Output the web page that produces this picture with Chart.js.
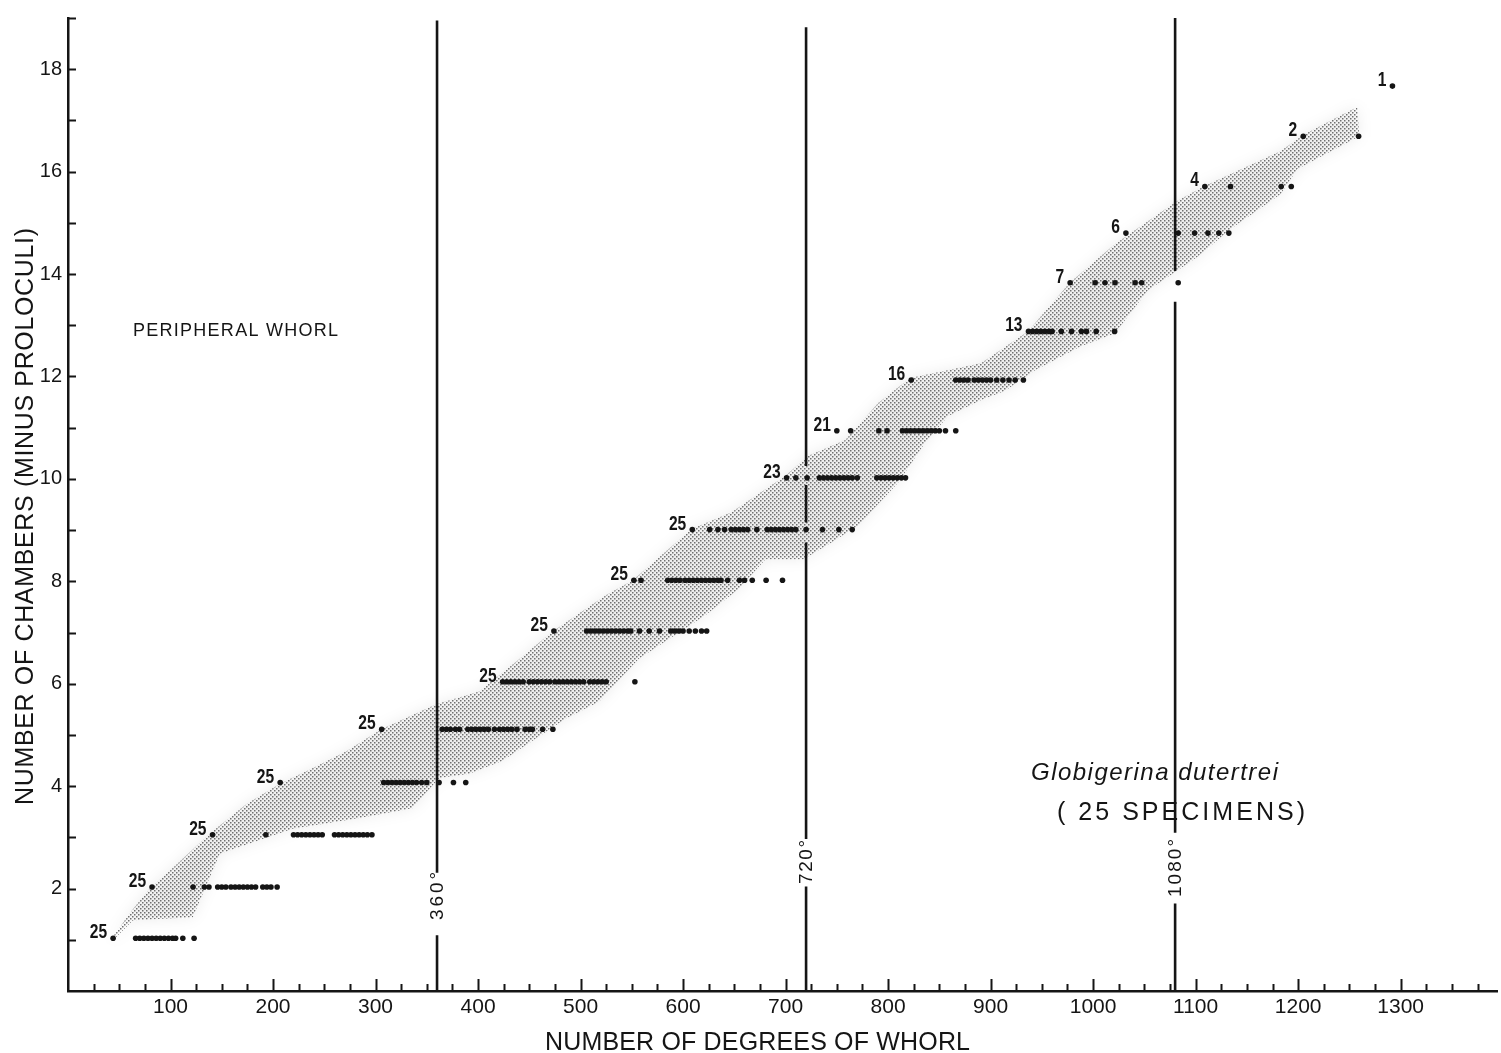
<!DOCTYPE html>
<html>
<head>
<meta charset="utf-8">
<script src="https://cdn.jsdelivr.net/npm/chart.js@4.4.1/dist/chart.umd.min.js"></script>
<style>
  html, body { margin: 0; padding: 0; background: #fff; }
  #wrap { width: 1501px; height: 1053px; }
</style>
</head>
<body>
<div id="wrap"><canvas id="chart" width="1501" height="1053"></canvas></div>
<script>
// axis ranges and tick labels
const X_MAX = 1394;
const Y_MAX = 19;
const xTickLabels = [100, 200, 300, 400, 500, 600, 700, 800, 900, 1000, 1100, 1200, 1300];
const yTickLabels = [2, 4, 6, 8, 10, 12, 14, 16, 18];

// one row of specimen points per chamber number
const rowY = [1.03, 2.03, 3.05, 4.07, 5.11, 6.04, 7.03, 8.02, 9.01, 10.02, 10.94, 11.93, 12.88, 13.83, 14.8, 15.71, 16.69, 17.67];
const rowCounts = [25, 25, 25, 25, 25, 25, 25, 25, 25, 23, 21, 16, 13, 7, 6, 4, 2, 1];

const row1 = [44, 66, 70, 74, 78, 82, 86, 90, 94, 98, 102, 105, 112, 123];
const row2 = [82, 122, 133, 137.5, 146, 150, 154, 159, 163, 167, 171, 175, 179, 183, 190, 194, 198, 204];
const row3 = [141, 193, 220, 224, 228, 232, 236, 240, 244, 248, 260, 264, 268, 272, 276, 280, 284, 288, 292, 296.5];
const row4 = [207, 308, 312, 316, 320, 324, 328, 332, 336, 340, 345, 350, 362, 376, 388];
const row5 = [306, 365, 369, 373, 378, 382, 390, 394, 398, 402, 406, 410, 416, 421, 425, 429, 433, 438, 446, 450, 453, 463, 473];
const row6 = [424, 428, 432, 436, 440, 444, 450, 454, 458, 462, 466, 470, 475, 479, 483, 487, 491, 495, 499, 503, 509, 513, 517, 521, 525, 553];
const row7 = [474, 506, 510, 514, 518, 522, 526, 530, 534, 538, 542, 546, 549, 557.5, 567, 577, 588, 592, 596, 600, 606, 612, 618, 623];
const row8 = [552, 559, 585, 589, 593, 597, 602, 606, 610, 614, 618, 622, 626, 630, 634, 637, 643.5, 655, 660, 667.5, 681, 697];
const row9 = [609, 626, 634, 640.5, 647, 651, 655, 659, 663, 672, 682, 686, 690, 694, 698, 702, 706, 710, 720, 736, 752, 765];
const row10 = [701, 710, 721, 733, 737, 741, 745, 749, 753, 757, 761, 765, 770, 789, 793, 797, 801, 805, 809, 813, 817];
const row11 = [750, 763.5, 791, 799, 814, 818, 822, 826, 830, 834, 838, 842, 846, 850, 856, 866];
const row12 = [822.6, 866, 870, 874, 878, 884, 888, 892, 896, 900, 906, 912, 918, 924, 932];
const row13 = [937, 941, 945, 949, 953, 957, 960, 969, 979, 988.6, 993.5, 1003, 1021];
const row14 = [977.6, 1002, 1011.6, 1021.4, 1041, 1047.4, 1083];
const row15 = [1032, 1083, 1099, 1112, 1122.6, 1132.4];
const row16 = [1109, 1134, 1183.5, 1193.3];
const row17 = [1205, 1259];
const row18 = [1292];
const rowX = [row1, row2, row3, row4, row5, row6, row7, row8, row9, row10, row11, row12, row13, row14, row15, row16, row17, row18];

// stippled envelope: upper edge left->right, lower edge right->left
const bandUpperX = [42.8, 62.3, 79.8, 99.3, 138.2, 174.2, 206.4, 238.5, 271.6, 305.7, 359.2, 401.1, 437.1, 472.1, 524.7, 551, 608.4, 647.3, 699.9, 722.3, 758.3, 790.4, 821.6, 890.7, 936.4, 977.3, 1021.1, 1082.4, 1108.7, 1182.7, 1206.1, 1257.7];
const bandUpperY = [1.03, 1.57, 2.0, 2.35, 3.07, 3.65, 4.04, 4.35, 4.68, 5.11, 5.6, 5.85, 6.43, 7.01, 7.73, 8.02, 9.02, 9.35, 10.06, 10.45, 10.76, 11.48, 11.97, 12.26, 12.88, 13.83, 14.58, 15.43, 15.72, 16.4, 16.73, 17.26];
const bandLowerX = [1259.6, 1199.3, 1182.7, 1134, 1101.9, 1053.3, 1021.1, 988, 943.3, 914.1, 890.7, 858.6, 836.2, 809.9, 771, 744.7, 717.4, 680.4, 654.2, 622, 556.8, 517.9, 485.7, 423.4, 391.3, 362.1, 335.8, 284.2, 219, 148, 121.7, 63.3, 43.8];
const bandLowerY = [16.69, 16.05, 15.56, 14.88, 14.34, 13.68, 12.84, 12.59, 12.12, 11.72, 11.54, 11.23, 10.71, 9.93, 9.09, 8.76, 8.43, 8.43, 7.85, 7.34, 6.49, 5.65, 5.32, 4.49, 4.24, 4.16, 3.57, 3.38, 3.17, 2.68, 1.44, 1.38, 0.99];

// whorl marker lines (null = gap)
const degreeX = [360, 720, 1080];
const degreeLabels = ['360°', '720°', '1080°'];
const line360Y = [18.95, 2.31, null, 1.09, 0];
const line720Y = [18.82, 10.25, null, 9.88, 9.15, null, 8.76, 2.97, null, 2.04, 0];
const line1080Y = [19, 14.06, null, 13.46, 3.09, null, 1.71, 0];

const INK = '#151515';

function stipple() {
  const c = document.createElement('canvas');
  c.width = 4; c.height = 4;
  const g = c.getContext('2d');
  g.fillStyle = '#707070';
  g.fillRect(0, 0, 1.5, 1.5);
  g.fillRect(2, 2, 1.5, 1.5);
  return g.createPattern(c, 'repeat');
}

const bandData = bandUpperX.map((x, i) => ({ x, y: bandUpperY[i] }))
  .concat(bandLowerX.map((x, i) => ({ x, y: bandLowerY[i] })));

const dotData = [];
rowX.forEach((xs, i) => xs.forEach(x => dotData.push({ x, y: rowY[i] })));

function vline(x, ys) {
  return {
    type: 'line',
    data: ys.map(y => ({ x, y })),
    borderColor: INK,
    borderWidth: 2.6,
    pointRadius: 0,
    spanGaps: false,
    fill: false,
    order: 1,
  };
}

function spaced(ctx, text, x0, y0, width) {
  ctx.letterSpacing = '0px';
  const w = ctx.measureText(text).width;
  ctx.letterSpacing = ((width - w) / (text.length - 1)) + 'px';
  ctx.textAlign = 'left';
  ctx.fillText(text, x0, y0);
  ctx.letterSpacing = '0px';
}

// faint blurred halo behind the stipple, like the printed original
const halo = {
  id: 'halo',
  beforeDatasetsDraw(chart) {
    const { ctx, scales: { x, y } } = chart;
    ctx.save();
    ctx.filter = 'blur(7px)';
    ctx.fillStyle = 'rgba(0,0,0,0.07)';
    ctx.beginPath();
    bandData.forEach((p, i) => {
      const px = x.getPixelForValue(p.x), py = y.getPixelForValue(p.y);
      if (i === 0) ctx.moveTo(px, py); else ctx.lineTo(px, py);
    });
    ctx.closePath();
    ctx.fill();
    ctx.restore();
  }
};

const decor = {
  id: 'decor',
  afterDatasetsDraw(chart) {
    const { ctx, scales: { x, y } } = chart;
    ctx.save();
    ctx.strokeStyle = INK;
    ctx.fillStyle = INK;

    // inward ticks
    ctx.lineWidth = 2;
    ctx.beginPath();
    for (let v = 25; v < X_MAX; v += 25) {
      const px = Math.round(x.getPixelForValue(v)) + 0.5;
      const len = v % 100 === 0 ? 12 : 7;
      ctx.moveTo(px, y.bottom);
      ctx.lineTo(px, y.bottom - len);
    }
    for (let v = 1; v <= Y_MAX; v++) {
      const py = Math.round(y.getPixelForValue(v)) + 0.5;
      ctx.moveTo(x.left, py);
      ctx.lineTo(x.left + 8, py);
    }
    ctx.stroke();

    // specimen counts beside first point of each row
    ctx.font = 'bold 20px "Liberation Sans", Arial, sans-serif';
    ctx.textAlign = 'right';
    ctx.textBaseline = 'alphabetic';
    rowX.forEach((xs, i) => {
      const px = x.getPixelForValue(xs[0]);
      const py = y.getPixelForValue(rowY[i]);
      ctx.save();
      ctx.translate(px - 6, py);
      ctx.scale(0.78, 1);
      ctx.fillText(String(rowCounts[i]), 0, 0);
      ctx.restore();
    });

    // degree labels, rotated
    const degPos = [[896, 48], [862, 44], [868, 58]];
    ctx.font = '19px "Liberation Sans", Arial, sans-serif';
    ctx.textBaseline = 'middle';
    degreeX.forEach((d, i) => {
      ctx.save();
      ctx.translate(x.getPixelForValue(d), degPos[i][0]);
      ctx.rotate(-Math.PI / 2);
      spaced(ctx, degreeLabels[i], -degPos[i][1] / 2, 1, degPos[i][1]);
      ctx.restore();
    });

    ctx.textBaseline = 'alphabetic';
    ctx.font = '18px "Liberation Sans", Arial, sans-serif';
    spaced(ctx, 'PERIPHERAL WHORL', 133, 336, 205);

    ctx.font = 'italic 24px "Liberation Sans", Arial, sans-serif';
    spaced(ctx, 'Globigerina dutertrei', 1031, 780, 247);
    ctx.font = '25px "Liberation Sans", Arial, sans-serif';
    spaced(ctx, '( 25 SPECIMENS)', 1057, 820, 248);

    // axis titles
    ctx.font = '25px "Liberation Sans", Arial, sans-serif';
    spaced(ctx, 'NUMBER OF DEGREES OF WHORL', 545, 1050, 425);
    ctx.save();
    ctx.translate(33, 805);
    ctx.rotate(-Math.PI / 2);
    spaced(ctx, 'NUMBER OF CHAMBERS (MINUS PROLOCULI)', 0, 0, 577);
    ctx.restore();

    ctx.restore();
  }
};

new Chart(document.getElementById('chart'), {
  type: 'scatter',
  data: {
    datasets: [
      {
        type: 'scatter',
        data: dotData,
        pointRadius: 2.8,
        pointBackgroundColor: INK,
        pointBorderWidth: 0,
        order: 0,
      },
      vline(degreeX[0], line360Y),
      vline(degreeX[1], line720Y),
      vline(degreeX[2], line1080Y),
      {
        type: 'line',
        data: bandData,
        borderWidth: 0,
        borderColor: 'rgba(0,0,0,0)',
        backgroundColor: stipple(),
        pointRadius: 0,
        fill: 'shape',
        tension: 0,
        order: 2,
      },
    ],
  },
  options: {
    responsive: false,
    animation: false,
    devicePixelRatio: 1,
    layout: { padding: { top: 13, right: 1, left: 0, bottom: 0 } },
    plugins: { legend: { display: false }, tooltip: { enabled: false } },
    scales: {
      x: {
        type: 'linear',
        min: 0,
        max: X_MAX,
        afterFit(s) { s.height = 62; },
        afterBuildTicks(s) { s.ticks = xTickLabels.map(v => ({ value: v })); },
        grid: { display: false, drawTicks: false },
        border: { display: true, color: INK, width: 2.5 },
        ticks: {
          padding: 4,
          maxRotation: 0,
          autoSkip: false,
          color: INK,
          font: { family: '"Liberation Sans", Arial, sans-serif', size: 21 },
          callback: v => String(v),
        },
      },
      y: {
        type: 'linear',
        min: 0,
        max: Y_MAX,
        afterFit(s) { s.width = 68; },
        afterBuildTicks(s) { s.ticks = yTickLabels.map(v => ({ value: v })); },
        grid: { display: false, drawTicks: false },
        border: { display: true, color: INK, width: 2.5 },
        ticks: {
          padding: 6,
          autoSkip: false,
          color: INK,
          font: { family: '"Liberation Sans", Arial, sans-serif', size: 20 },
          callback: v => String(v),
        },
      },
    },
  },
  plugins: [halo, decor],
});
</script>
</body>
</html>
